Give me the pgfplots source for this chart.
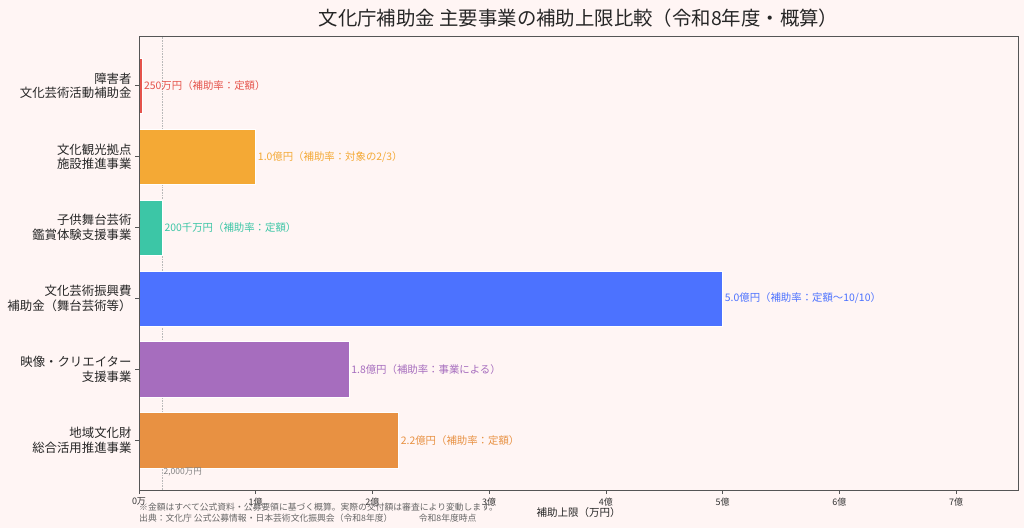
\documentclass[border=0pt]{standalone}
\usepackage{fontspec}
\setmainfont{Noto Sans CJK JP}
\usepackage{pgfplots}
\pgfplotsset{compat=1.18}

\definecolor{bgc}{HTML}{FFF5F4}
\definecolor{cred}{HTML}{E5534B}
\definecolor{corange}{HTML}{F4A935}
\definecolor{cteal}{HTML}{3CC6A6}
\definecolor{cblue}{HTML}{4C72FF}
\definecolor{cpurple}{HTML}{A66DBE}
\definecolor{corange2}{HTML}{E89142}
\definecolor{frame}{HTML}{555555}

\pgfplotsset{
  bar/.style={xbar, bar shift=0pt, bar width=0.78, fill=#1, draw=white, line width=0.5pt,
    point meta=explicit symbolic, nodes near coords,
    nodes near coords style={text=#1, font=\fontsize{10.4}{12}\selectfont, anchor=west, inner sep=2pt}},
}

\begin{document}
\begin{tikzpicture}
  \fill[bgc] (0pt,0pt) rectangle (1024pt,528pt);
  \begin{axis}[
    at={(139pt,38pt)}, anchor=south west,
    width=879pt, height=454pt, scale only axis,
    xmin=0, xmax=75300, ymin=-0.7, ymax=5.7,
    axis on top,
    axis background/.style={fill=bgc},
    axis line style={draw=frame, line width=0.9pt},
    scaled x ticks=false,
    xtick={0,10000,20000,30000,40000,50000,60000,70000},
    xticklabels={0万,1億,2億,3億,4億,5億,6億,7億},
    ytick={0,1,2,3,4,5},
    yticklabels={地域文化財\\総合活用推進事業, 映像・クリエイター\\支援事業, 文化芸術振興費\\補助金（舞台芸術等）, 子供舞台芸術\\鑑賞体験支援事業, 文化観光拠点\\施設推進事業, 障害者\\文化芸術活動補助金},
    yticklabel style={align=right, font=\fontsize{12.4}{14.5}\selectfont, text=black!85},
    xticklabel style={font=\fontsize{9}{10}\selectfont, text=black!80},
    tick align=outside, tick pos=left,
    major tick length=4pt,
    tick style={draw=frame, line width=0.6pt},
    title={文化庁補助金\ 主要事業の補助上限比較（令和8年度・概算）},
    title style={font=\fontsize{19.4}{22}\selectfont, text=black!85, at={(axis description cs:0.5,1)}, anchor=south, yshift=-1pt},
    xlabel={補助上限（万円）},
    xlabel style={font=\fontsize{10.5}{12}\selectfont, text=black!85, at={(axis description cs:0.5,0)}, anchor=center, yshift=-23pt},
    clip=false,
  ]
    \addplot[sharp plot, draw=gray!55, densely dotted, line width=0.6pt] coordinates {(2000,-0.7) (2000,5.7)};
    \addplot[bar=cred] coordinates {(250,5) [250万円（補助率：定額）]};
    \addplot[bar=corange] coordinates {(10000,4) [1.0億円（補助率：対象の2/3）]};
    \addplot[bar=cteal] coordinates {(2000,3) [200千万円（補助率：定額）]};
    \addplot[bar=cblue] coordinates {(50000,2) [5.0億円（補助率：定額～10/10）]};
    \addplot[bar=cpurple] coordinates {(18000,1) [1.8億円（補助率：事業による）]};
    \addplot[bar=corange2] coordinates {(22240,0) [2.2億円（補助率：定額）]};
    \node[anchor=west, text=gray, font=\fontsize{8.5}{10}\selectfont, inner sep=1pt] at (axis cs:2000,-0.45) {2,000万円};
  \end{axis}
  \node[anchor=west, text=black!60, font=\fontsize{8.8}{10}\selectfont, inner sep=0pt] at (139pt,21pt) {※金額はすべて公式資料・公募要領に基づく概算。実際の交付額は審査により変動します。};
  \node[anchor=west, text=black!60, font=\fontsize{8.8}{10}\selectfont, inner sep=0pt] at (139pt,10pt) {出典：文化庁\ 公式公募情報・日本芸術文化振興会（令和8年度）\qquad\quad 令和8年度時点};
\end{tikzpicture}
\end{document}
